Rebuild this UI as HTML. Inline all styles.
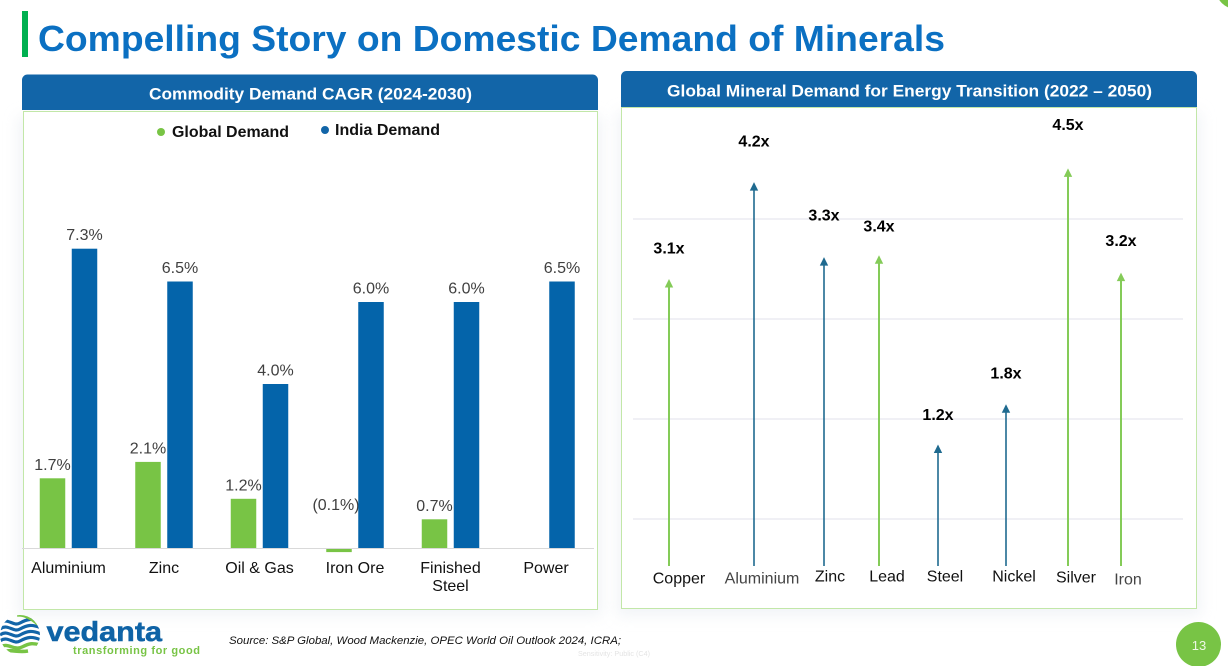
<!DOCTYPE html>
<html lang="en">
<head>
<meta charset="utf-8">
<title>Compelling Story on Domestic Demand of Minerals</title>
<style>
html,body{margin:0;padding:0;background:#fff;width:1228px;height:666px;overflow:hidden}
svg{display:block;font-family:"Liberation Sans",Arial,sans-serif}
</style>
</head>
<body>
<svg id="slide" xmlns="http://www.w3.org/2000/svg" width="1228" height="666" viewBox="0 0 1228 666">
  <defs>
    <filter id="soft" x="-5%" y="-5%" width="110%" height="112%"><feGaussianBlur stdDeviation="7"/></filter>
    <clipPath id="globe-clip"><circle cx="20" cy="635" r="20"/></clipPath>
  </defs>
  <rect width="1228" height="666" fill="#fff"/>
  <rect x="18" y="116" width="584" height="500" fill="#e9edf2" opacity=".6" filter="url(#soft)"/>
  <rect x="617" y="112" width="584" height="504" fill="#e9edf2" opacity=".6" filter="url(#soft)"/>

  <circle cx="1236" cy="-11" r="20" fill="#78c445"/>
  <rect x="22" y="11" width="6" height="46" fill="#00b050"/>
  <text x="38" y="51" font-size="36" font-weight="700" fill="#0b70c2" textLength="907" lengthAdjust="spacingAndGlyphs">Compelling Story on Domestic Demand of Minerals</text>

  <g>
    <rect x="23.500" y="111.500" width="574" height="498" fill="#fff" stroke="#c2e7a8" stroke-width="1"/>
    <path d="M22 110V80a5.500 5.500 0 0 1 5.500-5.500H592.500a5.500 5.500 0 0 1 5.500 5.500V110Z" fill="#1265a8"/>
    <text x="149" y="99.500" font-size="17" font-weight="700" fill="#fff" textLength="323" lengthAdjust="spacingAndGlyphs">Commodity Demand CAGR (2024-2030)</text>
    <g>
      <g>
        <circle cx="161" cy="132" r="4" fill="#78c445"/>
        <text x="172" y="137" font-size="16" font-weight="700" fill="#111" textLength="117" lengthAdjust="spacingAndGlyphs">Global Demand</text>
      </g>
      <g>
        <circle cx="325" cy="130" r="4" fill="#1265a8"/>
        <text x="335" y="135" font-size="16" font-weight="700" fill="#111" textLength="105" lengthAdjust="spacingAndGlyphs">India Demand</text>
      </g>
    </g>
    <g id="bar-chart"></g>
  </g>

  <g>
    <rect x="621.500" y="107.500" width="575" height="501" fill="#fff" stroke="#c2e7a8" stroke-width="1"/>
    <path d="M621 107V76.500a5.500 5.500 0 0 1 5.500-5.500H1191.500a5.500 5.500 0 0 1 5.500 5.500V107Z" fill="#1265a8"/>
    <text x="667" y="96.500" font-size="17" font-weight="700" fill="#fff" textLength="485" lengthAdjust="spacingAndGlyphs">Global Mineral Demand for Energy Transition (2022 – 2050)</text>
    <g id="arrow-chart"></g>
  </g>

  <g>
    <g clip-path="url(#globe-clip)" fill="none">
      <path d="M0 623C8 617 13 627 20 623S32 618 41 622" stroke="#1265a8" stroke-width="3.200"/>
      <path d="M0 629C8 623 13 633 20 629S32 624 41 628" stroke="#1265a8" stroke-width="3.200"/>
      <path d="M0 635C8 629 13 639 20 635S32 630 41 634" stroke="#1265a8" stroke-width="3.200"/>
      <path d="M0 641C8 635 13 645 20 641S32 636 41 640" stroke="#1265a8" stroke-width="3.200"/>
      <path d="M17 615C24 614 31 618 38 624" stroke="#78c445" stroke-width="3.600"/>
      <path d="M0 647C8 642 14 651 22 647S32 643 41 645" stroke="#78c445" stroke-width="3.400"/>
      <path d="M3 653C10 648 16 653 28 651" stroke="#78c445" stroke-width="3.600"/>
    </g>
    <text x="46.500" y="641" font-size="28" font-weight="700" fill="#0f63a6" stroke="#0f63a6" stroke-width=".5" textLength="115.500" lengthAdjust="spacingAndGlyphs">vedanta</text>
    <text x="73" y="654" font-size="11" font-weight="700" fill="#78c445" textLength="127" lengthAdjust="spacing">transforming for good</text>
  </g>

  <text x="229" y="644" font-size="11" font-style="italic" fill="#111" textLength="392" lengthAdjust="spacingAndGlyphs">Source: S&amp;P Global, Wood Mackenzie, OPEC World Oil Outlook 2024, ICRA;</text>
  <text x="578" y="656" font-size="7" fill="#e4e4e4" textLength="72" lengthAdjust="spacingAndGlyphs">Sensitivity: Public (C4)</text>
  <circle cx="1198.500" cy="644.500" r="22.500" fill="#78c445"/>
  <text x="1199" y="650" font-size="13" fill="#eef8e6" text-anchor="middle">13</text>
</svg>

<script>
/* ---- Left chart data ---- */
const barCategories = [["Aluminium"], ["Zinc"], ["Oil & Gas"], ["Iron Ore"], ["Finished", "Steel"], ["Power"]];
const globalDemand = [1.7, 2.1, 1.2, -0.1, 0.7, null];
const indiaDemand = [7.3, 6.5, 4.0, 6.0, 6.0, 6.5];

/* ---- Right chart data ---- */
const minerals = ["Copper", "Aluminium", "Zinc", "Lead", "Steel", "Nickel", "Silver", "Iron"];
/* Arrow lengths as drawn in the picture, in multiples of 2022 demand. */
const arrowLengths = [3.14, 4.2, 3.38, 3.4, 1.33, 1.77, 4.35, 3.21];
/* Printed callouts, as written on the slide. */
const printedMultiples = ["3.1x", "4.2x", "3.3x", "3.4x", "1.2x", "1.8x", "4.5x", "3.2x"];
const arrowGroups = ["green", "blue", "blue", "green", "blue", "blue", "green", "green"];
const gridTicks = [1, 2, 3, 4];

/* ---- Layout (hand-placed on the source slide, not data) ---- */
const columnLayout = [
  {x: 669, gap: 25.500, labelDx: 10, labelDy: 17.500, fill: "#111"},
  {x: 754, gap: 35.500, labelDx: 8, labelDy: 17.500, fill: "#444"},
  {x: 824, gap: 36.500, labelDx: 6, labelDy: 15.500, fill: "#111"},
  {x: 879, gap: 23.500, labelDx: 8, labelDy: 15.500, fill: "#111"},
  {x: 938, gap: 24.500, labelDx: 7, labelDy: 15.500, fill: "#111"},
  {x: 1006, gap: 25.500, labelDx: 8, labelDy: 15.500, fill: "#111"},
  {x: 1068, gap: 38.500, labelDx: 8, labelDy: 16.500, fill: "#111"},
  {x: 1121, gap: 26.500, labelDx: 7, labelDy: 18.500, fill: "#444"}
];

const SVG_NS = "http://www.w3.org/2000/svg";
function make(parent, tag, attrs, text) {
  const el = document.createElementNS(SVG_NS, tag);
  for (const key in attrs) el.setAttribute(key, attrs[key]);
  if (text !== undefined) el.textContent = text;
  parent.appendChild(el);
  return el;
}

/* ---- Bar chart ---- */
const barRoot = document.getElementById("bar-chart");
const zeroY = 548;
const unitPx = 41;
const barWidth = 25.5;
function barY(v) { return zeroY - v * unitPx; }
function groupX(i) { return 68.5 + 95.5 * i; }
function slug(s) { return s.toLowerCase().replace(/[^a-z0-9]+/g, "-"); }

function drawBar(i, value, centre, fill, series) {
  if (value === null) return;
  const top = Math.min(barY(value), zeroY);
  const height = Math.abs(barY(value) - zeroY);
  const name = slug(barCategories[i].join(" "));
  const bar = make(barRoot, "rect", {x: centre - barWidth / 2, y: top, width: barWidth, height: height, fill: fill});
  
  
  const labelText = value < 0 ? "(" + Math.abs(value).toFixed(1) + "%)" : value.toFixed(1) + "%";
  const labelY = value < 0 ? zeroY - 38 : top - 8.5;
  const labelX = value < 0 ? centre - 3 : centre;
  const label = make(barRoot, "text", {x: labelX, y: labelY, "font-size": 16, fill: "#404040", "text-anchor": "middle"}, labelText);
  
  
}

barCategories.forEach(function (lines, i) {
  drawBar(i, globalDemand[i], groupX(i) - 16, "#78c445", "global");
  drawBar(i, indiaDemand[i], groupX(i) + 16, "#0464aa", "india");
  lines.forEach(function (line, k) {
    const cat = make(barRoot, "text", {x: groupX(i), y: 573 + k * 18, "font-size": 16, fill: "#111", "text-anchor": "middle"}, line);
    
    
  });
});
const baseline = make(barRoot, "line", {x1: 22, x2: 594, y1: zeroY + 0.5, y2: zeroY + 0.5, stroke: "#d9d9d9", "stroke-width": 1});



/* ---- Arrow chart ---- */
const arrowRoot = document.getElementById("arrow-chart");
const arrowBase = 566;
const arrowUnit = 91.4;
const arrowColors = {green: "#84cb58", blue: "#1f6a8f"};
const arrowWidths = {green: 2, blue: 1.6};
function arrowY(v) { return arrowBase - v * arrowUnit; }
function gridY(t) { return 619 - t * 100; }

gridTicks.forEach(function (t) {
  const grid = make(arrowRoot, "line", {x1: 633, x2: 1183, y1: gridY(t), y2: gridY(t), stroke: "#e7e7ef", "stroke-width": 1.2});
  
  
});

minerals.forEach(function (mineral, i) {
  const col = columnLayout[i];
  const tip = arrowY(arrowLengths[i]);
  const color = arrowColors[arrowGroups[i]];
  const group = make(arrowRoot, "g", {});
  
  
  make(group, "line", {x1: col.x, x2: col.x, y1: arrowBase, y2: tip + 6, stroke: color, "stroke-width": arrowWidths[arrowGroups[i]]});
  make(group, "path", {d: "M" + col.x + " " + tip + "l4.2 8.500h-8.400Z", fill: color});
  const callout = make(arrowRoot, "text", {x: col.x, y: tip - col.gap, "font-size": 16, "font-weight": 700, fill: "#000", "text-anchor": "middle"}, printedMultiples[i]);
  
  
  const name = make(arrowRoot, "text", {x: col.x + col.labelDx, y: arrowBase + col.labelDy, "font-size": 16, fill: col.fill, "text-anchor": "middle"}, mineral);
  
  
});
</script>
</body>
</html>
